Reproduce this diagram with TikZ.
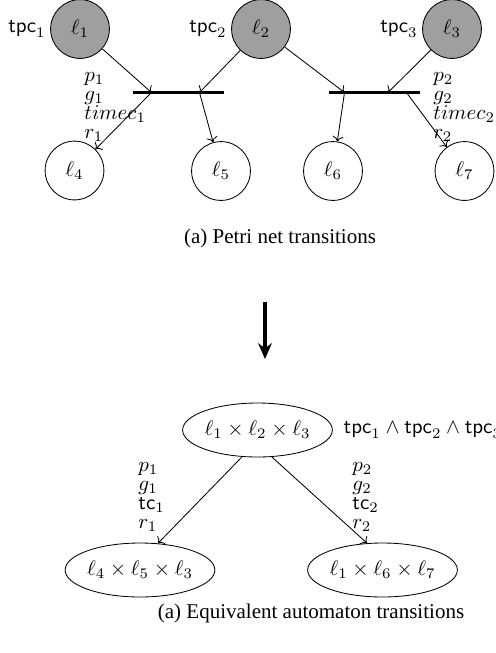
\documentclass[tikz,border=0pt]{standalone}
\usepackage{amsmath}
\usepackage{amssymb}
\usepackage{fontspec}
\newfontfamily\captionfont{Liberation Serif}
\usetikzlibrary{shapes.geometric,arrows.meta,calc}

\begin{document}
\begin{tikzpicture}[x=0.476pt,y=-0.476pt,
    place/.style={circle, draw, minimum size=28pt, inner sep=0pt},
    marked/.style={place, fill=gray!75},
    trans/.style={fill=black, minimum width=43.3pt, minimum height=1.4pt, inner sep=0pt},
    state/.style={ellipse, draw, minimum width=70pt, minimum height=25.7pt, inner sep=0pt},
    guard/.style={align=left, inner sep=0pt, font=\fontsize{10}{9}\selectfont},
    subcap/.style={font=\captionfont\fontsize{10}{12}\selectfont}]
    \useasboundingbox (0,0) rectangle (496,653);

    \node[marked] (l1) at (80,29) {$\ell_1$};
    \node[marked] (l2) at (261,29) {$\ell_2$};
    \node[marked] (l3) at (452,29) {$\ell_3$};
    \node[anchor=east, inner sep=2pt] (tpc1) at (l1.west) {$\mathsf{tpc}_1$};
    \node[anchor=east, inner sep=2pt] (tpc2) at (l2.west) {$\mathsf{tpc}_2$};
    \node[anchor=east, inner sep=2pt] (tpc3) at (l3.west) {$\mathsf{tpc}_3$};

    \node[trans] (t1) at (178.5,92.5) {};
    \node[trans] (t2) at (374.5,92.5) {};
    \coordinate (t1w) at ($(t1)+(-27,0)$);
    \coordinate (t1e) at ($(t1)+(21,0)$);
    \coordinate (t2w) at ($(t2)+(-30,0)$);
    \coordinate (t2c) at ($(t2)+(13.5,0)$);
    \coordinate (t2e) at ($(t2)+(32,0)$);

    \node[place] (l4) at (74.5,170.5) {$\ell_4$};
    \node[place] (l5) at (221,171) {$\ell_5$};
    \node[place] (l6) at (333,171) {$\ell_6$};
    \node[place] (l7) at (464.5,171) {$\ell_7$};

    \draw[->] (l1) -- (t1w);
    \draw[->] (l2) -- (t1e);
    \draw[->] (t1w) -- (l4);
    \draw[->] (t1e) -- (l5);
    \draw[->] (l2) -- (t2w);
    \draw[->] (l3) -- (t2c);
    \draw[->] (t2w) -- (l6);
    \draw[->] (t2e) -- (l7);

    \node[guard, anchor=north west] (lab1) at (84,72) {$p_1$\\$g_1$\\$timec_1$\\$r_1$};
    \node[guard, anchor=north west] (lab2) at (433,72) {$p_2$\\$g_2$\\$timec_2$\\$r_2$};

    \node[subcap] (cap1) at (280,238) {(a) Petri net transitions};

    \coordinate (d1) at (265,302);
    \coordinate (d2) at (265,359);
    \draw[line width=2.2pt, -{Stealth[length=7.5pt,width=6.5pt]}] (d1) -- (d2);

    \node[state] (s0) at (257.5,430) {$\ell_1 \times \ell_2 \times \ell_3$};
    \node[anchor=west, inner sep=5pt] (inv) at (s0.east) {$\mathsf{tpc}_1 \wedge \mathsf{tpc}_2 \wedge \mathsf{tpc}_3$};
    \node[state] (s1) at (140,570) {$\ell_4 \times \ell_5 \times \ell_3$};
    \node[state] (s2) at (382.5,570) {$\ell_1 \times \ell_6 \times \ell_7$};
    \draw[->] (s0.-120) -- (s1.56);
    \draw[->] (s0.-62) -- (s2.120);

    \node[guard, anchor=north west] (lab3) at (138,462) {$p_1$\\$g_1$\\$\mathsf{tc}_1$\\$r_1$};
    \node[guard, anchor=north west] (lab4) at (352,462) {$p_2$\\$g_2$\\$\mathsf{tc}_2$\\$r_2$};

    \node[subcap] (cap2) at (311,613) {(a) Equivalent automaton transitions};
\end{tikzpicture}
\end{document}
